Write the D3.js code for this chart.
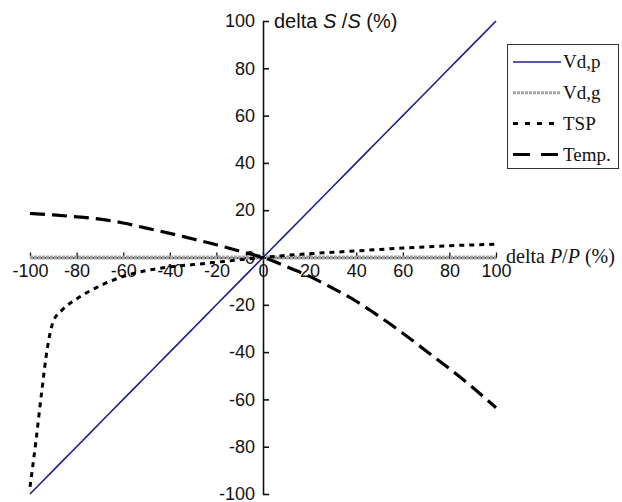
<!DOCTYPE html>
<html>
<head>
<meta charset="utf-8">
<script src="https://cdn.jsdelivr.net/npm/d3@7"></script>
<style>
  body { margin: 0; background: #fff; }
</style>
</head>
<body>
<div id="wrapper"></div>
<script>
const width = 622
const height = 502

// values
const pctX = [-100, -90, -80, -70, -60, -50, -40, -30, -20, -10, 0, 10, 20, 30, 40, 50, 60, 70, 80, 90, 100]
const vdp = [-100, -90, -80, -70, -60, -50, -40, -30, -20, -10, 0, 10, 20, 30, 40, 50, 60, 70, 80, 90, 100]
const vdg = [0, 0, 0, 0, 0, 0, 0, 0, 0, 0, 0, 0, 0, 0, 0, 0, 0, 0, 0, 0, 0]
const temp = [18.6, 18, 17.2, 16.2, 14.6, 12.4, 10.2, 7.8, 5.4, 2.7, 0, -3.8, -8, -13, -18.5, -25, -32, -39.5, -47, -55, -63.5]
const tspX = [-100, -97.5, -95, -92.5, -90, -86, -80, -70, -60, -50, -40, -30, -20, -10, 0, 10, 20, 30, 40, 50, 60, 70, 80, 90, 100]
const tsp = [-97, -78, -57, -38, -27, -22, -17.5, -12, -8, -5.5, -4, -3, -2, -1, 0, 0.9, 1.6, 2.2, 2.8, 3.4, 4, 4.5, 5, 5.3, 5.6]
const xTicks = [-100, -80, -60, -40, -20, 0, 20, 40, 60, 80, 100]
const yTicks = [-100, -80, -60, -40, -20, 0, 20, 40, 60, 80, 100]
const legendNames = ["Vd,p", "Vd,g", "TSP", "Temp."]

const x = d3.scaleLinear([-100, 100], [30, 496])
const y = d3.scaleLinear([-100, 100], [494, 21])

const styles = {
    "Vd,p": { stroke: "#1c1f8f", width: 1.6, dash: null, key: null },
    "Vd,g": { stroke: "#a3a3a3", width: 4, dash: "3,1", key: "3,1" },
    "TSP": { stroke: "#000", width: 3, dash: "5,5", key: "5,7" },
    "Temp.": { stroke: "#000", width: 3.2, dash: "15,7", key: "17,11" }
}

const svg = d3.select("#wrapper").append("svg")
    .attr("width", width)
    .attr("height", height)

// axes
svg.append("g")
    .attr("transform", `translate(0,${y(0)})`)
    .call(d3.axisBottom(x).tickValues(xTicks).tickFormat(d => String(d))
        .tickSizeInner(-5).tickSizeOuter(0).tickPadding(7))
    .call(g => g.selectAll("text").attr("font-size", 18).attr("font-family", "Liberation Sans, Arial, sans-serif").attr("fill", "#111"))
    .call(g => g.selectAll("line,path").attr("stroke", "#111").attr("stroke-width", 1.3))

svg.append("g")
    .attr("transform", `translate(${x(0)},0)`)
    .call(d3.axisLeft(y).tickValues(yTicks).tickFormat(d => String(d))
        .tickSizeInner(-6).tickSizeOuter(0).tickPadding(8))
    .call(g => g.selectAll("text").attr("font-size", 18).attr("font-family", "Liberation Sans, Arial, sans-serif").attr("fill", "#111"))
    .call(g => g.selectAll("line,path").attr("stroke", "#111").attr("stroke-width", 1.6))

// axis titles
const yTitle = svg.append("text")
    .attr("x", 274).attr("y", 28)
    .attr("font-family", "Liberation Sans, Arial, sans-serif")
    .attr("font-size", 20)
    .attr("fill", "#111")
yTitle.append("tspan").text("delta ")
yTitle.append("tspan").attr("font-style", "italic").text("S")
yTitle.append("tspan").text(" /")
yTitle.append("tspan").attr("font-style", "italic").text("S")
yTitle.append("tspan").text("  (%)")

const xTitle = svg.append("text")
    .attr("x", 506).attr("y", 263)
    .attr("font-family", "Liberation Serif, Times New Roman, serif")
    .attr("font-size", 20)
    .attr("fill", "#111")
xTitle.append("tspan").text("delta ")
xTitle.append("tspan").attr("font-style", "italic").text("P")
xTitle.append("tspan").text("/")
xTitle.append("tspan").attr("font-style", "italic").text("P")
xTitle.append("tspan").text(" (%)")

// series
const line = d3.line()
    .x(d => x(d[0]))
    .y(d => y(d[1]))
    .curve(d3.curveMonotoneX)

const series = [
    { name: "Vd,g", pts: pctX.map((v, i) => [v, vdg[i]]) },
    { name: "Vd,p", pts: pctX.map((v, i) => [v, vdp[i]]) },
    { name: "TSP", pts: tspX.map((v, i) => [v, tsp[i]]) },
    { name: "Temp.", pts: pctX.map((v, i) => [v, temp[i]]) }
]

svg.append("g")
    .selectAll("path")
    .data(series)
    .join("path")
    .attr("fill", "none")
    .attr("stroke", d => styles[d.name].stroke)
    .attr("stroke-width", d => styles[d.name].width)
    .attr("stroke-dasharray", d => styles[d.name].dash)
    .attr("d", d => line(d.pts))

// legend
const legend = svg.append("g")

legend.append("rect")
    .attr("x", 507.5).attr("y", 44.5)
    .attr("width", 111).attr("height", 124)
    .attr("fill", "#fff")
    .attr("stroke", "#333")
    .attr("stroke-width", 1)

const item = legend.selectAll("g")
    .data(legendNames)
    .join("g")
    .attr("transform", (d, i) => `translate(513,${62 + i * 30.8})`)

item.append("line")
    .attr("x1", 0).attr("x2", 48)
    .attr("stroke", d => styles[d].stroke)
    .attr("stroke-width", d => Math.min(styles[d].width, 3))
    .attr("stroke-dasharray", d => styles[d].key)

item.append("text")
    .attr("x", 50)
    .attr("dy", "0.33em")
    .attr("font-family", "Liberation Serif, Times New Roman, serif")
    .attr("font-size", 19)
    .attr("fill", "#111")
    .text(d => d)
</script>
</body>
</html>
